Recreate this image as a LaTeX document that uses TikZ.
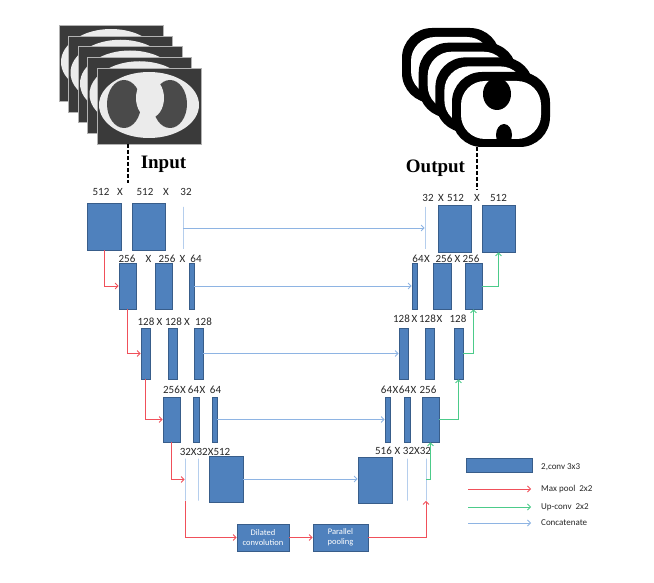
\documentclass[tikz,border=0pt]{standalone}
\usepackage{fontspec}
\setmainfont{Carlito}
\newfontfamily\headfont{Liberation Serif}
\usetikzlibrary{arrows.meta}
\definecolor{convblue}{HTML}{4F81BD}
\definecolor{convedge}{HTML}{385D8A}
\definecolor{poolred}{HTML}{F0505A}
\definecolor{upgreen}{HTML}{4CCB8A}
\definecolor{catblue}{HTML}{8EB4E3}
\definecolor{ctdark}{HTML}{3A3A3A}
\definecolor{ctbody}{HTML}{EBEBEB}
\definecolor{ctlung}{HTML}{4A4A4A}

\begin{document}
\begin{tikzpicture}[x=1pt,y=-1pt,>={Straight Barb[length=3pt,width=6pt]},
    conv/.style={draw=convedge, fill=convblue, line width=0.8pt, inner sep=0pt},
    slim/.style={draw=catblue, line width=0.8pt, inner sep=0pt, minimum width=0pt},
    dim/.style={font=\fontsize{11}{11}\selectfont, text=black!85, inner sep=0pt},
    maxpool/.style={draw=poolred, line width=0.8pt, ->},
    upconv/.style={draw=upgreen, line width=0.8pt, ->},
    concat/.style={draw=catblue, line width=0.8pt, ->},
    op/.style={conv, text=white, align=center, font=\fontsize{8.5}{10}\selectfont,
      minimum width=52, minimum height=27},
    leg/.style={font=\fontsize{9}{9}\selectfont, anchor=west, inner sep=0pt, text=black!85},
    head/.style={font=\headfont\bfseries\fontsize{19}{19}\selectfont, inner sep=0pt}]
  \useasboundingbox (0,0) rectangle (654,583);

  % input slices
  \foreach \i in {0,...,3} {
    \begin{scope}[shift={(59+9.5*\i,25+10.75*\i)}]
      \fill[ctdark] (0,0) rectangle (104,76);
      \draw[gray!60] (0,0) rectangle (104,76);
      \fill[ctbody] (52,37) ellipse [x radius=50, y radius=33];
      \fill[ctlung] (52,38) ellipse [x radius=42, y radius=26];
    \end{scope}
  }
  \begin{scope}[shift={(97,68)}]
    \fill[ctdark] (0,0) rectangle (104,76);
    \draw[gray!60] (0,0) rectangle (104,76);
    \fill[ctbody] (52,37) ellipse [x radius=50, y radius=33];
    \fill[ctlung] (27,36) ellipse [x radius=17, y radius=24];
    \fill[ctlung] (73,36) ellipse [x radius=17, y radius=24];
    \fill[ctbody] (53,30) ellipse [x radius=14, y radius=20];
    \fill[ctbody] (52,56) ellipse [x radius=7, y radius=10];
  \end{scope}

  % output masks
  \foreach \i in {0,1,2} {
    \begin{scope}[shift={(402+16.7*\i,28+14.7*\i)}]
      \fill[black, rounded corners=30] (0,0) rectangle (98,75);
      \fill[white, rounded corners=24] (9,9) rectangle (89,67);
    \end{scope}
  }
  \begin{scope}[shift={(452,72)}]
    \fill[black, rounded corners=30] (0,0) rectangle (98,75);
    \fill[white, rounded corners=24] (9,9) rectangle (89,67);
    \fill[black] (45,22) ellipse [x radius=14, y radius=16];
    \fill[black] (52,63) ellipse [x radius=8, y radius=11];
  \end{scope}

  \node[head] (intitle) at (163.5,164) {Input};
  \node[head] (outtitle) at (435.5,168) {Output};
  \coordinate (inimg) at (128,144);
  \coordinate (indim) at (128,183);
  \coordinate (outimg) at (477,147);
  \coordinate (outdim) at (477,190);
  \draw[line width=1.2pt, dash pattern=on 4pt off 2pt] (inimg) -- (indim);
  \draw[line width=1.2pt, dash pattern=on 4pt off 2pt] (outimg) -- (outdim);

  % conv blocks
  \foreach \n/\x/\y/\w/\h in {a1/104/226.5/34/47, a2/148.5/226.5/33/47,
      b1/127.5/286/17/46, b2/163.5/286/17/46, b3/191.5/286/5/46,
      c1/145.5/353.5/9/51, c2/172.5/353.5/9/51, c3/198.5/353.5/9/51,
      d1/171.5/419.5/17/45, d2/196/419.5/6/45, d3/214.5/419.5/5/45,
      e3/226/479/34/46, f1/375/480/34/46,
      g1/387.5/419.5/5/45, g2/407/419.5/6/45, g3/430.5/419.5/17/45,
      h1/403.5/353.5/9/51, h2/429.5/353.5/9/51, h3/458.5/353.5/9/51,
      i1/414.5/286/5/46, i2/442/286/18/46, i3/473.5/286/17/46,
      j2/454.5/228.5/33/47, j3/498.5/228.5/33/47}
    \node[conv, minimum width=\w, minimum height=\h] (\n) at (\x,\y) {};
  \foreach \n/\x/\y in {a3/183/228, j1/425/228, e1/185/479.5, e2/198/479.5,
      f2/407/479.5, f3/426/479.5}
    \node[slim, minimum height=42] (\n) at (\x,\y) {};

  % sizes
  \foreach \txt/\x/\y [count=\k] in {512/101/192, X/120/192, 512/145/192, X/166/192, 32/186/192,
      256/127/259, X/148.5/259, 256/167/259, X/182.5/259, 64/196/259,
      128/146/322, X/159.5/322, 128/173.5/322, X/187/322, 128/203.5/322,
      256/171.5/390, X/183/390, 64/193.5/390, X/202.5/390, 64/215.5/390,
      32X32X512/205/452, 516/383.5/451, X/397.5/451, 32X32/417/451,
      64/386.5/390, X/395.5/390, 64/404.5/390, X/413.5/390, 256/428/390,
      128/401.5/319, X/414.5/319, 128/427.5/319, X/439.5/319, 128/458/319,
      64/418/259, X/427/259, 256/444/259, X/457.5/259, 256/471/259,
      32/428/198, X/441/198, 512/455.5/198, X/477/198, 512/498.5/198}
    \node[dim] (t\k) at (\x,\y) {\txt};

  \node[op] (dil) at (263,537.5) {Dilated\\convolution};
  \node[op, minimum width=55] (par) at (340.5,537.5) {Parallel\\pooling};

  % down path
  \draw[maxpool] (a1.south) |- (b1.west);
  \draw[maxpool] (b1.south) |- (c1.west);
  \draw[maxpool] (c1.south) |- (d1.west);
  \draw[maxpool] (d1.south) |- (e1.west);
  \draw[maxpool] (e1.south) |- (dil.west);
  \draw[maxpool] (dil) -- (par);
  \draw[maxpool] (par.east) -| (f3.south);
  % up path
  \draw[upconv] (f3.east) -| (g3.south);
  \draw[upconv] (g3.east) -| (h3.south);
  \draw[upconv] (h3.east) -| (i3.south);
  \draw[upconv] (i3.east) -| (j3.south);
  % skips
  \draw[concat] (a3.east) -- (j1.west);
  \draw[concat] (b3.east) -- (i1.west);
  \draw[concat] (c3.east) -- (h1.west);
  \draw[concat] (d3.east) -- (g1.west);
  \draw[concat] (e3.east) -- (e3.east -| f1.west);

  % legend
  \node[conv, minimum width=66, minimum height=14] (lbox) at (499,465) {};
  \node[leg] (lconv) at (541,467) {2,conv 3x3};
  \coordinate (lp0) at (468,489);
  \coordinate (lp1) at (531,489);
  \coordinate (lu0) at (468,507);
  \coordinate (lu1) at (531,507);
  \coordinate (lc0) at (468,523);
  \coordinate (lc1) at (531,523);
  \draw[maxpool] (lp0) -- (lp1);
  \draw[upconv] (lu0) -- (lu1);
  \draw[concat] (lc0) -- (lc1);
  \node[leg] (lpool) at (541,489) {Max pool\ \ 2x2};
  \node[leg] (lup) at (541,507) {Up-conv\ \ 2x2};
  \node[leg] (lcat) at (541,523) {Concatenate};
\end{tikzpicture}
\end{document}
